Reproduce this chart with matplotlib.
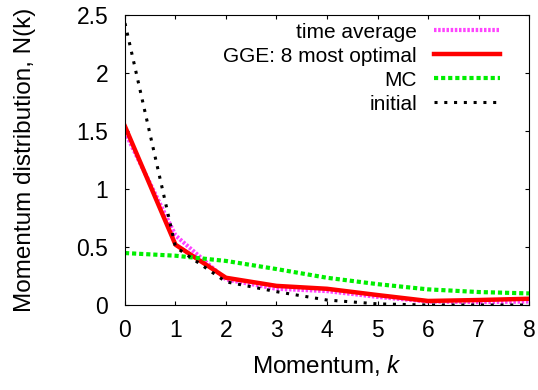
import numpy as np
import matplotlib.pyplot as plt

plt.rcParams['font.family'] = ['Liberation Sans', 'DejaVu Sans']
plt.rcParams['mathtext.fontset'] = 'custom'
plt.rcParams['mathtext.it'] = 'Liberation Sans:italic'

k = [0, 1, 2, 3, 4, 5, 6, 7, 8]
time_avg = [1.49, 0.60, 0.22, 0.14, 0.12, 0.07, 0.03, 0.025, 0.03]
gge = [1.54, 0.52, 0.235, 0.165, 0.14, 0.086, 0.035, 0.043, 0.054]
mc = [0.448, 0.425, 0.38, 0.31, 0.235, 0.18, 0.135, 0.112, 0.10]
initial = [2.43, 0.50, 0.20, 0.115, 0.043, 0.01, 0.0, 0.0, 0.0]

yticks = [0, 0.5, 1, 1.5, 2, 2.5]
ytick_labels = ['0', '0.5', '1', '1.5', '2', '2.5']

fig = plt.figure(figsize=(5.38, 3.9), dpi=100)
ax = fig.add_axes([0.2323, 0.2179, 0.751, 0.7436])

ax.plot(k, time_avg, color='#ff44ff', lw=3, ls=(0, (0.6, 0.4)), label='time average')
ax.plot(k, gge, color='#ff0000', lw=3.2, label='GGE: 8 most optimal')
ax.plot(k, mc, color='#00ee00', lw=3, ls=(0, (1, 0.7)), label='MC')
ax.plot(k, initial, color='black', lw=2.2, ls=(0, (1, 2.2)), label='initial')

ax.set_xlim(0, 8)
ax.set_ylim(0, 2.5)
ax.set_xticks(k)
ax.set_yticks(yticks)
ax.set_yticklabels(ytick_labels)
ax.tick_params(direction='in', top=True, right=True, labelsize=16.5, length=3)
ax.tick_params(axis='x', pad=10)
ax.tick_params(axis='y', pad=12)
ax.set_xlabel('Momentum, $k$', fontsize=17.5, labelpad=8)
ax.set_ylabel('Momentum distribution, N(k)', fontsize=17.5, labelpad=29)

leg = ax.legend(loc='upper right', markerfirst=False, frameon=False, fontsize=15,
                handlelength=3.2, handletextpad=0.8, labelspacing=0.24,
                borderaxespad=0.2, bbox_to_anchor=(0.96, 1.017))
for col in leg._legend_handle_box.get_children():
    col.align = 'right'

fig.savefig('out.png', dpi=100)
